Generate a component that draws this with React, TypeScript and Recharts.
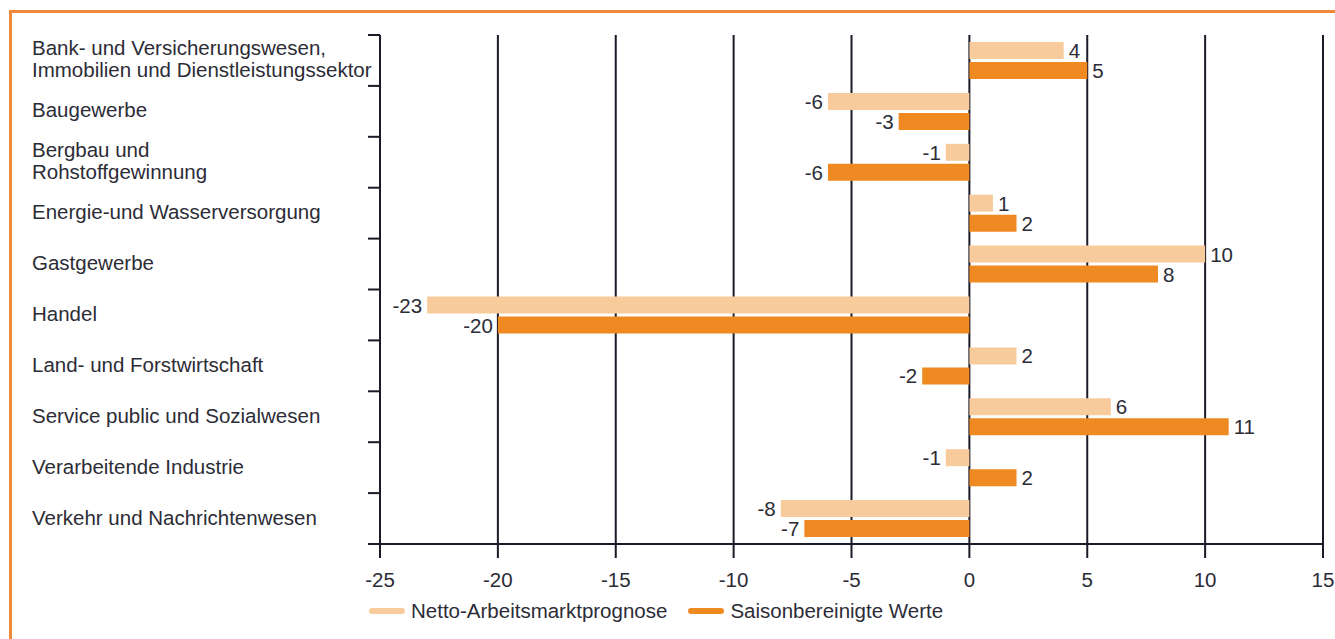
import React from 'react';
import { BarChart, Bar, XAxis, YAxis, CartesianGrid, Legend, LabelList } from 'recharts';

const categories = [
  'Bank- und Versicherungswesen,\nImmobilien und Dienstleistungssektor',
  'Baugewerbe',
  'Bergbau und\nRohstoffgewinnung',
  'Energie-und Wasserversorgung',
  'Gastgewerbe',
  'Handel',
  'Land- und Forstwirtschaft',
  'Service public und Sozialwesen',
  'Verarbeitende Industrie',
  'Verkehr und Nachrichtenwesen',
];
const netto = [4, -6, -1, 1, 10, -23, 2, 6, -1, -8];
const saison = [5, -3, -6, 2, 8, -20, -2, 11, 2, -7];
const xTicks = [-25, -20, -15, -10, -5, 0, 5, 10, 15];

const seriesNames = ['Netto-Arbeitsmarktprognose', 'Saisonbereinigte Werte'];
const LIGHT = '#F8CB9C';
const DARK = '#EE8A21';
const INK = '#1a1a28';
const TEXT = '#2c2c36';
const FONT = '"Liberation Sans", Arial, Helvetica, sans-serif';
const FS = 20.5;

const data = categories.map((name, i) => ({ name, netto: netto[i], saison: saison[i] }));

const W = 1335;
const H = 639;
const TOP = 35;
const LEFT = 380;
const RIGHT = 12;
const XAXIS_H = 95;
const PLOT_H = H - TOP - XAXIS_H;
const BAND = PLOT_H / categories.length;

const CategoryTick = (props: any) => {
  const { y, payload, index } = props;
  const lines = String(payload.value).split('\n');
  const lh = 22;
  const start = y - 2 - ((lines.length - 1) * lh) / 2;
  return (
    <g>
      <line x1={LEFT - 12} x2={LEFT} y1={y - BAND / 2} y2={y - BAND / 2} stroke={INK} strokeWidth={2} />
      {index === categories.length - 1 && (
        <line x1={LEFT - 12} x2={LEFT} y1={y + BAND / 2} y2={y + BAND / 2} stroke={INK} strokeWidth={2} />
      )}
      <text x={32} y={start} fill={TEXT} fontSize={FS} fontFamily={FONT} textAnchor="start" dominantBaseline="central">
        {lines.map((l, i) => (
          <tspan key={i} x={32} dy={i === 0 ? 0 : lh}>
            {l}
          </tspan>
        ))}
      </text>
    </g>
  );
};

const ValueLabel = (props: any) => {
  const { x, y, width, height, value } = props;
  const left = Math.min(x, x + width);
  const right = Math.max(x, x + width);
  const neg = value < 0;
  return (
    <text
      x={neg ? left - 5 : right + 5}
      y={y + height / 2}
      fill={TEXT}
      fontSize={FS}
      fontFamily={FONT}
      textAnchor={neg ? 'end' : 'start'}
      dominantBaseline="central"
    >
      {value}
    </text>
  );
};

const LegendContent = () => (
  <div style={{ display: 'flex', alignItems: 'center', fontFamily: FONT, fontSize: FS, color: TEXT }}>
    {[LIGHT, DARK].map((c, i) => (
      <div key={i} style={{ display: 'flex', alignItems: 'center', marginRight: 21 }}>
        <span style={{ display: 'inline-block', width: 36, height: 6, borderRadius: 3, background: c, marginRight: 6 }} />
        <span>{seriesNames[i]}</span>
      </div>
    ))}
  </div>
);

export default function App() {
  return (
    <div style={{ position: 'absolute', left: 0, top: 0, width: W, height: H, overflow: 'hidden', background: '#fff' }}>
      <div
        style={{
          position: 'absolute',
          left: 9,
          top: 10,
          width: W,
          height: H,
          border: '3px solid #F08A3A',
          boxSizing: 'border-box',
        }}
      />
      <div style={{ position: 'absolute', left: 0, top: 0 }}>
        <BarChart
          width={W}
          height={H}
          data={data}
          layout="vertical"
          margin={{ top: TOP, right: RIGHT, left: 0, bottom: 0 }}
          barSize={17}
          barGap={3}
        >
          <CartesianGrid horizontal={false} stroke={INK} strokeWidth={2} strokeOpacity={1} />
          <XAxis
            type="number"
            domain={[-25, 15]}
            ticks={xTicks}
            height={XAXIS_H}
            axisLine={{ stroke: INK, strokeWidth: 2 }}
            tickLine={{ stroke: INK, strokeWidth: 2 }}
            tickSize={14}
            tickMargin={14}
            tick={{ fill: TEXT, fontSize: FS, fontFamily: FONT }}
            interval={0}
          />
          <YAxis
            type="category"
            dataKey="name"
            width={LEFT}
            axisLine={{ stroke: INK, strokeWidth: 2 }}
            tickLine={false}
            tick={<CategoryTick />}
            interval={0}
          />
          <Legend
            layout="horizontal"
            verticalAlign="middle"
            align="center"
            content={<LegendContent />}
            wrapperStyle={{ top: 599, left: 369, width: 'auto' }}
          />
          <Bar dataKey="netto" fill={LIGHT} isAnimationActive={false}>
            <LabelList dataKey="netto" content={<ValueLabel />} />
          </Bar>
          <Bar dataKey="saison" fill={DARK} isAnimationActive={false}>
            <LabelList dataKey="saison" content={<ValueLabel />} />
          </Bar>
        </BarChart>
      </div>
    </div>
  );
}
